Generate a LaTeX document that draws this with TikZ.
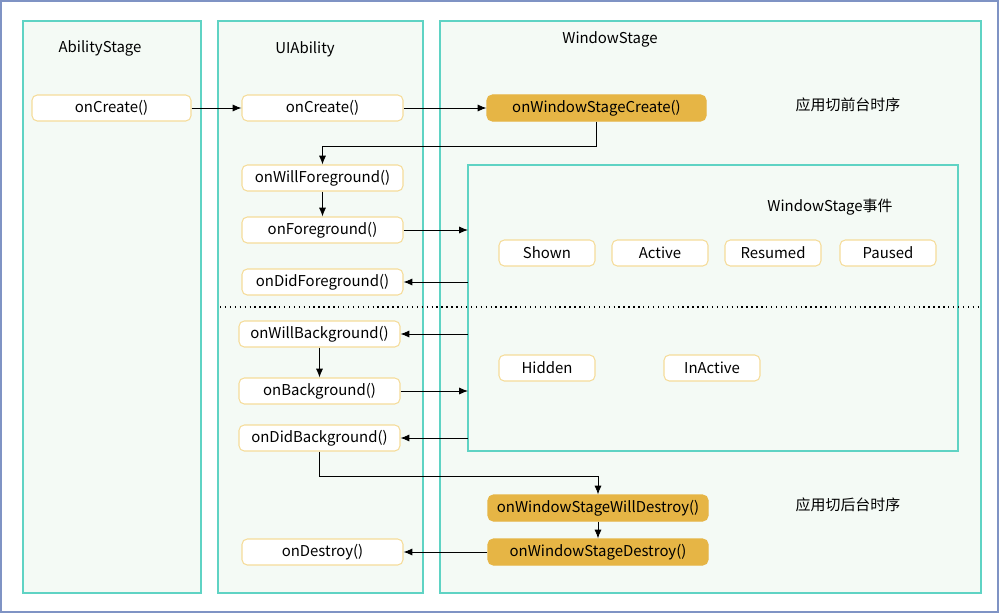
\documentclass[tikz,border=0pt]{standalone}
\usepackage{fontspec}
\setmainfont{Noto Sans CJK SC}
\usetikzlibrary{arrows.meta}
\definecolor{colb}{HTML}{5FD3C4}
\definecolor{colf}{HTML}{F4FAF5}
\definecolor{nb}{HTML}{F5DC9A}
\definecolor{gold}{HTML}{E6B545}
\definecolor{outer}{HTML}{7F93C4}
\tikzset{
 col/.style={draw=colb,fill=colf,line width=1.2pt},
 fn/.style={draw=nb,fill=white,rounded corners=3pt,line width=0.6pt,minimum height=26*0.02cm,inner sep=0pt,font=\fontsize{8.5}{10}\selectfont},
 gfn/.style={fn,fill=gold,draw=gold},
 lbl/.style={font=\fontsize{8.5}{10}\selectfont},
 ar/.style={-{Latex[length=5pt,width=4pt]},line width=0.5pt}
}
\newcommand{\fnode}[7]{\node[#1,minimum width=#5*0.02cm-#4*0.02cm] (#2) at ({(#4+#5)/2},{(#6+#7)/2}) {#3};}
\begin{document}
\begin{tikzpicture}[x=0.02cm,y=-0.02cm]
\useasboundingbox (0,0) rectangle (1000,615);
\draw[outer,line width=1.2pt] (1,1) rectangle (998,612);
\draw[col] (23,21) rectangle (201,593);
\draw[col] (218,21) rectangle (423,593);
\draw[col] (440,21) rectangle (981,593);
\draw[col] (468,165) rectangle (958,451);
\coordinate (dl) at (220,307); \coordinate (dr) at (980,307);
\draw[dotted,line width=0.8pt] (dl) -- (dr);
\node[lbl] (t1) at (100,48) {AbilityStage};
\node[lbl] (t2) at (305,49) {UIAbility};
\node[lbl] (t3) at (610,39) {WindowStage};
\node[lbl] (t4) at (848,105) {应用切前台时序};
\node[lbl] (t5) at (830,207) {WindowStage事件};
\node[lbl] (t6) at (848,505) {应用切后台时序};
\fnode{fn}{ac}{onCreate()}{32}{191}{95}{121}
\fnode{fn}{uc}{onCreate()}{242}{403}{95}{121}
\fnode{fn}{wf}{onWillForeground()}{242}{403}{165}{191}
\fnode{fn}{fg}{onForeground()}{242}{403}{217}{243}
\fnode{fn}{df}{onDidForeground()}{242}{403}{269}{295}
\fnode{fn}{wb}{onWillBackground()}{239}{400}{321}{347}
\fnode{fn}{bg}{onBackground()}{239}{400}{378}{404}
\fnode{fn}{db}{onDidBackground()}{239}{400}{425}{451}
\fnode{fn}{ud}{onDestroy()}{242}{403}{539}{565}
\fnode{gfn}{wc}{onWindowStageCreate()}{487}{706}{95}{121}
\fnode{gfn}{wwd}{onWindowStageWillDestroy()}{488}{708}{495}{521}
\fnode{gfn}{wd}{onWindowStageDestroy()}{488}{708}{539}{565}
\fnode{fn}{e1}{Shown}{499}{595}{240}{266}
\fnode{fn}{e2}{Active}{612}{708}{240}{266}
\fnode{fn}{e3}{Resumed}{725}{821}{240}{266}
\fnode{fn}{e4}{Paused}{840}{936}{240}{266}
\fnode{fn}{e5}{Hidden}{499}{595}{355}{381}
\fnode{fn}{e6}{InActive}{664}{760}{355}{381}
\coordinate (p1) at (468,230); \coordinate (p2) at (468,282);
\coordinate (p3) at (468,334); \coordinate (p4) at (468,391);
\coordinate (p5) at (468,438);
\draw[ar] (ac) -- (uc);
\draw[ar] (uc) -- (wc);
\draw[ar] (wc.south) -- ++(0,25) -| (wf.north);
\draw[ar] (wf) -- (fg);
\draw[ar] (fg.east) -- (p1);
\draw[ar] (p2) -- (df.east);
\draw[ar] (p3) -- (wb.east);
\draw[ar] (wb) -- (bg);
\draw[ar] (bg.east) -- (p4);
\draw[ar] (p5) -- (db.east);
\draw[ar] (db.south) -- ++(0,25) -| (wwd.north);
\draw[ar] (wwd) -- (wd);
\draw[ar] (wd) -- (ud);
\end{tikzpicture}
\end{document}
